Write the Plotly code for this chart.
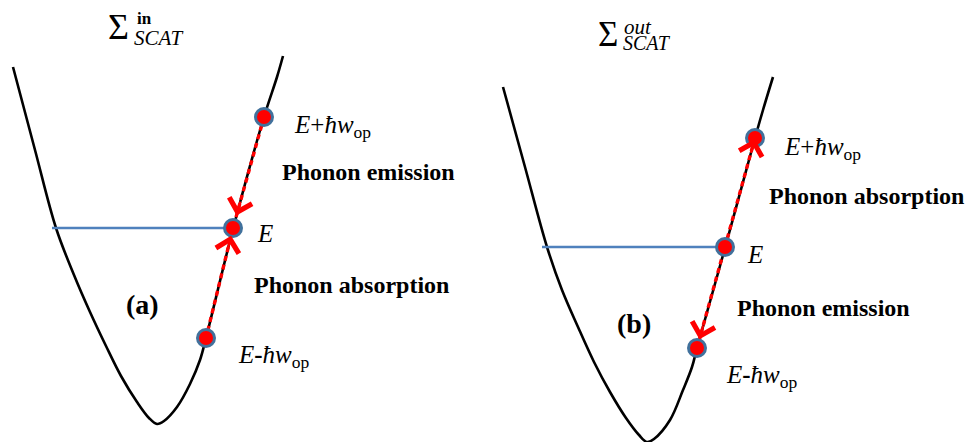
import numpy as np
import plotly.graph_objects as go

# ---- data (pixel-space coordinates of the sketch) ----
curve_a_x = [13, 35, 56, 74, 90, 106, 121, 137, 149, 157, 164, 177, 190, 200, 206, 233, 264, 277, 283]
curve_a_y = [67, 150, 228, 275, 312, 346, 376, 402, 418, 424, 421, 407, 384, 360, 338, 229, 117, 77, 56]
curve_b_x = [503, 525, 547, 562, 578, 594, 610, 626, 639, 647, 654, 670, 683, 692, 697, 725, 755, 763, 773]
curve_b_y = [87, 167, 247, 290, 327, 362, 392, 418, 435, 442, 439, 420, 390, 367, 348, 248, 138, 110, 77]

# states: E+hw, E, E-hw
states_a_x = [264, 233, 206]
states_a_y = [117, 228, 338]
states_b_x = [755, 725, 697]
states_b_y = [138, 247, 348]

# horizontal energy line (start x, end at E)
level_a_x = [52, 233]
level_a_y = [228, 228]
level_b_x = [542, 725]
level_b_y = [247, 247]

state_labels = ["<i>E</i>+<i>ħw</i><sub>op</sub>", "<i>E</i>", "<i>E</i><b>-</b><i>ħw</i><sub>op</sub>"]
labels_a_pos = [(292, 126), (255, 233), (236, 356)]
labels_b_pos = [(782, 148), (745, 254), (724, 376)]
process_a = [("Phonon emission", 280, 172), ("Phonon absorption", 252, 285)]
process_b = [("Phonon absorption", 767, 196), ("Phonon emission", 735, 308)]
panel_labels = [("(a)", 142, 304), ("(b)", 634, 323)]

RED = "#FF0000"
BLUE = "#4F81BD"
RING = "#41719C"
SERIF = "'Times New Roman', 'Liberation Serif', 'DejaVu Serif', serif"

fig = go.Figure()

for cx, cy in [(curve_a_x, curve_a_y), (curve_b_x, curve_b_y)]:
    fig.add_trace(go.Scatter(x=cx, y=cy, mode="lines",
                             line=dict(color="black", width=2.6, shape="spline", smoothing=1.0),
                             hoverinfo="skip"))

for sx, sy in [(states_a_x, states_a_y), (states_b_x, states_b_y)]:
    fig.add_trace(go.Scatter(x=sx, y=sy, mode="lines", line=dict(color=RED, width=3.4, dash="5px,4px"),
                             hoverinfo="skip"))

for lx, ly in [(level_a_x, level_a_y), (level_b_x, level_b_y)]:
    fig.add_trace(go.Scatter(x=lx, y=ly, mode="lines", line=dict(color=BLUE, width=2.6), hoverinfo="skip"))

for sx, sy in [(states_a_x, states_a_y), (states_b_x, states_b_y)]:
    fig.add_trace(go.Scatter(x=sx, y=sy, mode="markers",
                             marker=dict(size=17, color=RED, line=dict(color=RING, width=3)),
                             hoverinfo="skip"))

annotations = []


def arrow(sx, sy, i_from, i_to, standoff, length=16):
    x0, y0 = sx[i_from], sy[i_from]
    x1, y1 = sx[i_to], sy[i_to]
    d = np.hypot(x1 - x0, y1 - y0)
    ux, uy = (x1 - x0) / d, (y1 - y0) / d
    return dict(x=x1, y=y1, ax=x1 - ux * (standoff + length), ay=y1 - uy * (standoff + length),
                xref="x", yref="y", axref="x", ayref="y", text="", showarrow=True,
                arrowhead=4, arrowsize=1.9, arrowwidth=2.4, arrowcolor=RED, standoff=standoff)


annotations.append(arrow(states_a_x, states_a_y, 0, 1, 13))
annotations.append(arrow(states_a_x, states_a_y, 2, 1, 8))
annotations.append(arrow(states_b_x, states_b_y, 1, 0, 1))
annotations.append(arrow(states_b_x, states_b_y, 1, 2, 9))

for pos in (labels_a_pos, labels_b_pos):
    for lab, (lx, ly) in zip(state_labels, pos):
        annotations.append(dict(x=lx, y=ly, xref="x", yref="y", text=lab, showarrow=False,
                                xanchor="left", yanchor="middle",
                                font=dict(family=SERIF, size=25, color="black")))

for txt, lx, ly in process_a + process_b:
    annotations.append(dict(x=lx, y=ly, xref="x", yref="y", text="<b>%s</b>" % txt, showarrow=False,
                            xanchor="left", yanchor="middle",
                            font=dict(family=SERIF, size=24, color="black")))

for txt, lx, ly in panel_labels:
    annotations.append(dict(x=lx, y=ly, xref="x", yref="y", text="<b>%s</b>" % txt, showarrow=False,
                            xanchor="center", yanchor="middle",
                            font=dict(family=SERIF, size=28, color="black")))

# Sigma titles (glyph, left x, centre y, size)
titles = [
    ("Σ", 106, 27, 36), ("<b>in</b>", 135, 18, 17), ("<i>SCAT</i>", 132, 38, 21),
    ("Σ", 596, 34, 35), ("<i>out</i>", 622, 27, 21), ("<i>SCAT</i>", 621, 43, 20),
]
for txt, lx, ly, fs in titles:
    annotations.append(dict(x=lx, y=ly, xref="x", yref="y", text=txt, showarrow=False,
                            xanchor="left", yanchor="middle",
                            font=dict(family=SERIF, size=fs, color="black")))

fig.update_layout(
    width=969, height=442, margin=dict(l=0, r=0, t=0, b=0),
    paper_bgcolor="white", plot_bgcolor="white", showlegend=False,
    font=dict(family=SERIF),
    xaxis=dict(range=[0, 969], visible=False, fixedrange=True),
    yaxis=dict(range=[442, 0], visible=False, fixedrange=True),
    annotations=annotations,
)

fig.write_html("out.html")
